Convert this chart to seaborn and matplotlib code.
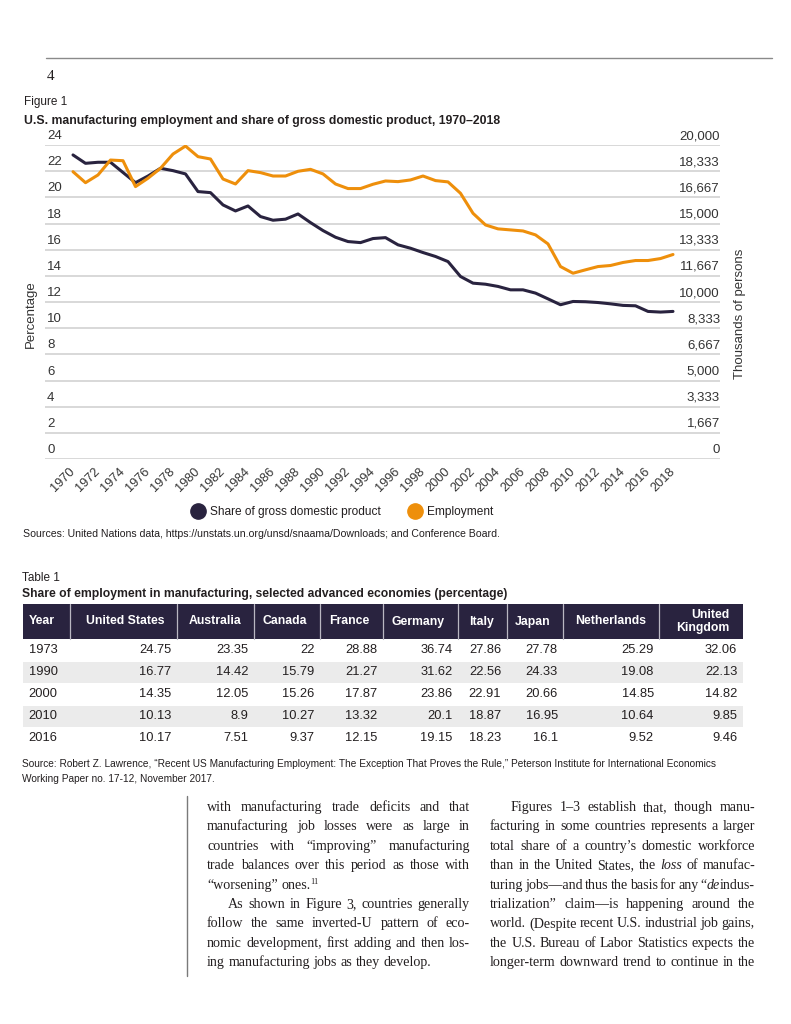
import numpy as np
import pandas as pd
import matplotlib
matplotlib.use("Agg")
import matplotlib.pyplot as plt
import matplotlib.transforms as mtransforms
from matplotlib.lines import Line2D
from matplotlib.patches import Rectangle
import seaborn as sns

# ----------- Figure 1 data -----------
years = list(range(1970, 2019))

# share of GDP, percent (left axis)
gdp_share = [23.24, 22.60, 22.68, 22.68, 21.90, 21.12, 21.63, 22.22, 22.04, 21.79,
             20.44, 20.36, 19.42, 18.96, 19.34, 18.53, 18.25, 18.33, 18.73, 18.07,
             17.46, 16.95, 16.62, 16.54, 16.85, 16.92, 16.37, 16.11, 15.78, 15.48,
             15.09, 13.95, 13.44, 13.36, 13.19, 12.93, 12.93, 12.68, 12.24, 11.79,
             12.04, 12.02, 11.96, 11.86, 11.74, 11.71, 11.28, 11.23, 11.28]

# employment, thousands of persons (right axis)
employment = [18300, 17600, 18092, 19042, 19000, 17350, 17883, 18517, 19425, 19933,
              19258, 19108, 17833, 17517, 18367, 18242, 18025, 18025, 18325, 18450,
              18158, 17517, 17225, 17225, 17500, 17708, 17667, 17775, 18025, 17733,
              17650, 16925, 15650, 14908, 14658, 14592, 14525, 14275, 13700, 12258,
              11833, 12050, 12258, 12325, 12517, 12642, 12642, 12767, 13025]

pct_ticks = [0, 2, 4, 6, 8, 10, 12, 14, 16, 18, 20, 22, 24]
emp_labels = ["0", "1,667", "3,333", "5,000", "6,667", "8,333", "10,000",
              "11,667", "13,333", "15,000", "16,667", "18,333", "20,000"]
year_ticks = years[::2]

# ----------- Table 1 data -----------
table_header = ["Year", "United States", "Australia", "Canada", "France", "Germany",
                "Italy", "Japan", "Netherlands", "United\nKingdom"]
table_years = ["1973", "1990", "2000", "2010", "2016"]
united_states = ["24.75", "16.77", "14.35", "10.13", "10.17"]
australia = ["23.35", "14.42", "12.05", "8.9", "7.51"]
canada = ["22", "15.79", "15.26", "10.27", "9.37"]
france = ["28.88", "21.27", "17.87", "13.32", "12.15"]
germany = ["36.74", "31.62", "23.86", "20.1", "19.15"]
italy = ["27.86", "22.56", "22.91", "18.87", "18.23"]
japan = ["27.78", "24.33", "20.66", "16.95", "16.1"]
netherlands = ["25.29", "19.08", "14.85", "10.64", "9.52"]
united_kingdom = ["32.06", "22.13", "14.82", "9.85", "9.46"]

# ----------- body text -----------
left_col = [
    ("with manufacturing trade deficits and that", True, 0),
    ("manufacturing job losses were as large in", True, 0),
    ("countries with “improving” manufacturing", True, 0),
    ("trade balances over this period as those with", True, 0),
    ("“worsening” ones.^11", False, 0),
    ("As shown in Figure 3, countries generally", True, 21),
    ("follow the same inverted-U pattern of eco-", True, 0),
    ("nomic development, first adding and then los-", True, 0),
    ("ing manufacturing jobs as they develop.", False, 0),
]
right_col = [
    ("Figures 1–3 establish that, though manu-", True, 21),
    ("facturing in some countries represents a larger", True, 0),
    ("total share of a country’s domestic workforce", True, 0),
    ("than in the United States, the _loss_ of manufac-", True, 0),
    ("turing jobs—and thus the basis for any “_de_indus-", True, 0),
    ("trialization” claim—is happening around the", True, 0),
    ("world. (Despite recent U.S. industrial job gains,", True, 0),
    ("the U.S. Bureau of Labor Statistics expects the", True, 0),
    ("longer-term downward trend to continue in the", True, 0),
]

NAVY = "#29233f"
ORANGE = "#ee8f0b"
INK = "#231f20"
GRID = "#d6d6d6"
SANS = "Liberation Sans"
SERIF = "Liberation Serif"
BODY = 10.1

sns.set_theme(style="white")
plt.rcParams["font.family"] = [SANS, "DejaVu Sans"]

W, H = 791, 1024
fig = plt.figure(figsize=(W / 100, H / 100), dpi=100)
fig.patch.set_facecolor("white")

# page overlay in pixel units
page = fig.add_axes([0, 0, 1, 1])
page.set_xlim(0, W)
page.set_ylim(H, 0)
page.axis("off")

page.plot([46, 772], [58, 58], color="#8a8a8a", lw=1.0)
page.text(47, 80, "4", family=SERIF, fontsize=11, color=INK, va="baseline")
page.text(24, 105, "Figure 1", fontsize=8.5, color=INK, va="baseline")
page.text(24, 124, "U.S. manufacturing employment and share of gross domestic product, 1970–2018",
          fontsize=8.8, fontweight="bold", color=INK, va="baseline")

# ----------- the chart -----------
ax = fig.add_axes([45 / W, 1 - 459 / H, 675 / W, 314 / H])
ax.set_xlim(1967.76, 2021.76)
ax.set_ylim(0, 24)
for v in pct_ticks:
    ax.axhline(v, color=GRID, lw=1.3, zorder=0)

sns.lineplot(x=years, y=gdp_share, ax=ax, color=NAVY, lw=2.2)

ax2 = ax.twinx()
ax2.set_ylim(0, 20000)
sns.lineplot(x=years, y=employment, ax=ax2, color=ORANGE, lw=2.2)

for a in (ax, ax2):
    for s in a.spines.values():
        s.set_visible(False)
    a.set_yticks([])
    a.set_ylabel("")
ax2.set_xticks([])

ax.set_xticks(year_ticks)
ax.set_xticklabels([str(y) for y in year_ticks], rotation=45, ha="right",
                   rotation_mode="anchor", fontsize=9.2, color="#333333")
ax.tick_params(axis="x", length=0, pad=5)
shift = mtransforms.ScaledTranslation(-4 / 100, 0, fig.dpi_scale_trans)
for lab in ax.get_xticklabels():
    lab.set_transform(lab.get_transform() + shift)

for v, lab in zip(pct_ticks, pct_ticks):
    ax.text(0.003, v + 0.22, str(lab), transform=ax.get_yaxis_transform(),
            ha="left", va="bottom", fontsize=9.5, color="#333333")
for v, lab in zip(pct_ticks, emp_labels):
    ax.text(1.0, v + 0.22, lab, transform=ax.get_yaxis_transform(),
            ha="right", va="bottom", fontsize=9.5, color="#333333")

page.text(31, 314, "Percentage", rotation=90, ha="center", va="center",
          fontsize=9.5, color="#333333")
page.text(740, 314, "Thousands of persons", rotation=90, ha="center", va="center",
          fontsize=9.5, color="#333333")

handles = [Line2D([], [], ls="", marker="o", markersize=11, color=NAVY),
           Line2D([], [], ls="", marker="o", markersize=11, color=ORANGE)]
fig.legend(handles, ["Share of gross domestic product", "Employment"],
           loc="center", bbox_to_anchor=(342 / W, 1 - 512 / H), ncol=2, frameon=False,
           fontsize=8.6, handletextpad=0.4, columnspacing=2.2, handlelength=1.2,
           labelcolor=INK)

page.text(23, 537, "Sources: United Nations data, https://unstats.un.org/unsd/snaama/Downloads; and Conference Board.",
          fontsize=7.55, color=INK, va="baseline")

# ----------- Table 1 -----------
page.text(22, 581, "Table 1", fontsize=8.5, color=INK, va="baseline")
page.text(22, 597, "Share of employment in manufacturing, selected advanced economies (percentage)",
          fontsize=8.7, fontweight="bold", color=INK, va="baseline")

col_edges = [22.7, 70, 177, 254, 320, 382.7, 458, 506.7, 563.3, 659.3, 742.7]
head_top, head_bot, row_h = 604, 639, 22
page.add_patch(Rectangle((col_edges[0], head_top), col_edges[-1] - col_edges[0],
                         head_bot - head_top, color=NAVY, lw=0))
for e in col_edges[1:-1]:
    page.plot([e, e], [head_top, head_bot], color="#b9b7c2", lw=0.9)

for i, name in enumerate(table_header):
    yc = (head_top + head_bot) / 2
    if i == 0:
        page.text(col_edges[0] + 6, yc, name, ha="left", va="center", color="white",
                  fontsize=8.8, fontweight="bold")
    else:
        page.text(col_edges[i + 1] - 13, yc, name, ha="right", va="center", color="white",
                  fontsize=8.8, fontweight="bold", linespacing=1.0, multialignment="right")

columns = [table_years, united_states, australia, canada, france, germany,
           italy, japan, netherlands, united_kingdom]
for r in range(len(table_years)):
    top = head_bot + r * row_h
    if r % 2 == 1:
        page.add_patch(Rectangle((col_edges[0], top + 0.5), col_edges[-1] - col_edges[0],
                                 row_h - 1, color="#ebebeb", lw=0))
    yc = top + row_h / 2
    for c, col in enumerate(columns):
        if c == 0:
            page.text(col_edges[0] + 6, yc, col[r], ha="left", va="center",
                      fontsize=9.3, color=INK)
        else:
            page.text(col_edges[c + 1] - 5.5, yc, col[r], ha="right", va="center",
                      fontsize=9.3, color=INK)

page.text(22, 767, "Source: Robert Z. Lawrence, “Recent US Manufacturing Employment: The Exception That Proves the Rule,” "
          "Peterson Institute for International Economics", fontsize=7.3, color=INK, va="baseline")
page.text(22, 782, "Working Paper no. 17-12, November 2017.", fontsize=7.3, color=INK, va="baseline")

# ----------- body text, justified word by word -----------
renderer = fig.canvas.get_renderer()


def word_parts(word):
    sup = None
    if "^" in word:
        word, sup = word.split("^")
    parts = []
    for i, seg in enumerate(word.split("_")):
        if seg:
            parts.append((seg, "italic" if i % 2 else "normal", False))
    if sup:
        parts.append((sup, "normal", True))
    return parts


def put_word(x, y, word, draw=True):
    width = 0
    for seg, style, sup in word_parts(word):
        t = page.text(x + width, y - (5 if sup else 0), seg, family=SERIF,
                      fontsize=BODY * (0.6 if sup else 1), fontstyle=style,
                      va="baseline", ha="left", color=INK)
        width += t.get_window_extent(renderer).width
        if not draw:
            t.remove()
    return width


def set_column(lines, x0, x1, y0, step):
    for k, (line, justify, indent) in enumerate(lines):
        y = y0 + k * step
        words = line.split()
        widths = [put_word(0, 0, w, draw=False) for w in words]
        gap = BODY * 100 / 72 * 0.25
        if justify and len(words) > 1:
            gap = max((x1 - x0 - indent - sum(widths)) / (len(words) - 1), 2.0)
        x = x0 + indent
        for w, wd in zip(words, widths):
            put_word(x, y, w)
            x += wd + gap


set_column(left_col, 207, 470, 811, 19.4)
set_column(right_col, 490, 755, 811, 19.4)
page.plot([187, 187], [796, 976], color="#7a7a7a", lw=1.0)

fig.savefig("out.png", dpi=100)
